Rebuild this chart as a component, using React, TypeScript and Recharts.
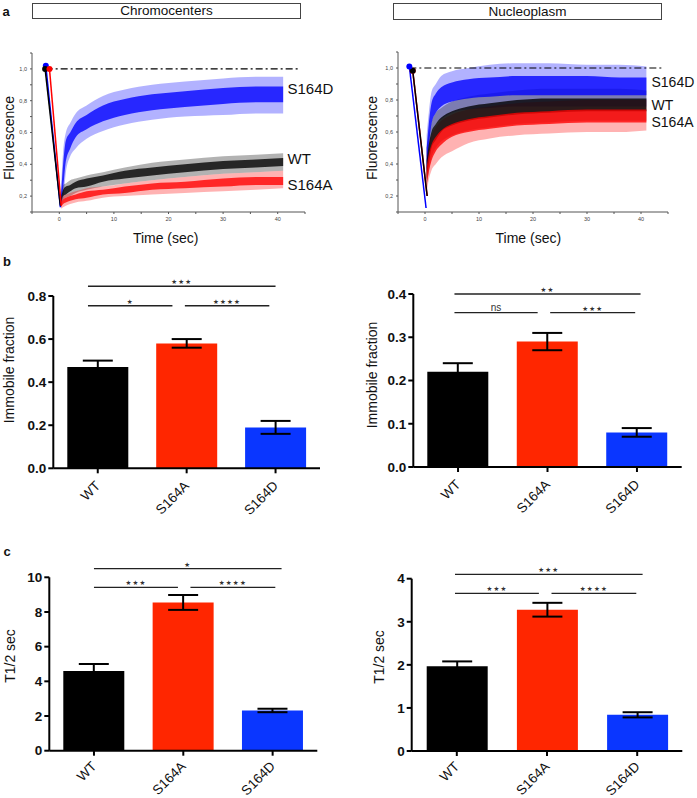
import React from 'react'
import {
  Area,
  Bar,
  BarChart,
  Cell,
  ComposedChart,
  ErrorBar,
  Line,
  ReferenceLine,
  XAxis,
  YAxis,
} from 'recharts'

const FONT = '"Liberation Sans", Arial, Helvetica, sans-serif'

// ---- a: FRAP recovery clouds, envelope at each time (sec) ----
const times = [0.3, 0.7, 1.2, 2, 3, 5, 8, 12, 17, 23, 30, 36, 41]

// Chromocenters
const chrWtLo = [0.14, 0.18, 0.19, 0.2, 0.22, 0.24, 0.26, 0.28, 0.3, 0.32, 0.34, 0.35, 0.36]
const chrWtCoreLo = [0.15, 0.2, 0.21, 0.23, 0.25, 0.26, 0.29, 0.31, 0.33, 0.35, 0.37, 0.38, 0.39]
const chrWtCoreHi = [0.19, 0.24, 0.26, 0.27, 0.29, 0.31, 0.33, 0.36, 0.38, 0.4, 0.42, 0.43, 0.44]
const chrWtHi = [0.22, 0.27, 0.28, 0.3, 0.31, 0.33, 0.35, 0.38, 0.41, 0.43, 0.45, 0.46, 0.47]

const chrALo = [0.12, 0.13, 0.14, 0.15, 0.16, 0.17, 0.19, 0.2, 0.21, 0.22, 0.23, 0.24, 0.25]
const chrACoreLo = [0.13, 0.15, 0.16, 0.17, 0.18, 0.19, 0.21, 0.22, 0.24, 0.25, 0.26, 0.27, 0.27]
const chrACoreHi = [0.16, 0.18, 0.19, 0.2, 0.21, 0.23, 0.24, 0.26, 0.28, 0.29, 0.31, 0.32, 0.32]
const chrAHi = [0.18, 0.2, 0.21, 0.22, 0.23, 0.25, 0.26, 0.28, 0.3, 0.32, 0.34, 0.35, 0.36]

const chrDLo = [0.15, 0.18, 0.35, 0.45, 0.5, 0.56, 0.61, 0.65, 0.68, 0.7, 0.71, 0.72, 0.72]
const chrDCoreLo = [0.16, 0.25, 0.42, 0.5, 0.57, 0.62, 0.67, 0.71, 0.74, 0.76, 0.78, 0.79, 0.79]
const chrDCoreHi = [0.2, 0.4, 0.55, 0.6, 0.66, 0.71, 0.77, 0.81, 0.84, 0.86, 0.88, 0.89, 0.89]
const chrDHi = [0.24, 0.48, 0.6, 0.66, 0.72, 0.77, 0.83, 0.87, 0.9, 0.92, 0.94, 0.95, 0.95]

// Nucleoplasm
const nucWtLo = [0.25, 0.35, 0.44, 0.5, 0.54, 0.58, 0.61, 0.63, 0.65, 0.66, 0.67, 0.67, 0.67]
const nucWtCoreLo = [0.3, 0.4, 0.5, 0.55, 0.6, 0.64, 0.67, 0.69, 0.71, 0.72, 0.73, 0.73, 0.73]
const nucWtCoreHi = [0.42, 0.52, 0.6, 0.65, 0.69, 0.73, 0.76, 0.78, 0.8, 0.81, 0.81, 0.81, 0.81]
const nucWtHi = [0.5, 0.58, 0.66, 0.72, 0.75, 0.79, 0.82, 0.84, 0.86, 0.87, 0.87, 0.87, 0.86]

const nucALo = [0.22, 0.3, 0.36, 0.4, 0.44, 0.48, 0.53, 0.56, 0.58, 0.59, 0.6, 0.6, 0.61]
const nucACoreLo = [0.27, 0.35, 0.42, 0.48, 0.52, 0.57, 0.6, 0.62, 0.64, 0.65, 0.66, 0.66, 0.66]
const nucACoreHi = [0.38, 0.46, 0.52, 0.57, 0.61, 0.65, 0.68, 0.7, 0.72, 0.73, 0.74, 0.74, 0.74]
const nucAHi = [0.45, 0.52, 0.58, 0.63, 0.67, 0.71, 0.74, 0.76, 0.78, 0.79, 0.8, 0.8, 0.8]

const nucDLo = [0.28, 0.42, 0.58, 0.65, 0.68, 0.72, 0.74, 0.75, 0.76, 0.76, 0.76, 0.76, 0.76]
const nucDCoreLo = [0.35, 0.5, 0.65, 0.72, 0.76, 0.79, 0.81, 0.82, 0.83, 0.83, 0.83, 0.83, 0.83]
const nucDCoreHi = [0.5, 0.65, 0.78, 0.84, 0.88, 0.91, 0.93, 0.94, 0.95, 0.95, 0.95, 0.94, 0.94]
const nucDHi = [0.58, 0.72, 0.85, 0.9, 0.95, 0.98, 1.0, 1.02, 1.03, 1.03, 1.02, 1.02, 1.01]

// pre-bleach point and the drop to the first post-bleach frame (WT, S164A, S164D)
const chrStartT = [-2.6, -1.8, -2.47]
const chrStartV = [1.0, 1.0, 1.02]
const chrEndT = [0.2, 0.35, 0.2]
const chrEndV = [0.14, 0.14, 0.13]
const nucStartT = [-2.27, -2.27, -2.9]
const nucStartV = [0.983, 0.983, 1.01]
const nucEndT = [0.4, 0.4, 0.2]
const nucEndV = [0.2, 0.2, 0.125]

const timeTicks = [-5, 0, 5, 10, 15, 20, 25, 30, 35, 40, 45]
const fluoTicks = [0.1, 0.2, 0.3, 0.4, 0.5, 0.6, 0.7, 0.8, 0.9, 1.0, 1.1]

// ---- b, c: bar panels ----
const groups = ['WT', 'S164A', 'S164D']
const groupSlots = [0.5, 1.5, 2.5]
const barColors = ['#000000', '#ff2600', '#0a36ff']
const cloudColors = ['#000000', '#ff0000', '#0000ff']

const immobileChr = [0.47, 0.58, 0.19]
const immobileChrErr = [0.03, 0.02, 0.03]
const immobileNuc = [0.22, 0.29, 0.08]
const immobileNucErr = [0.02, 0.02, 0.01]
const halfChr = [4.6, 8.55, 2.32]
const halfChrErr = [0.4, 0.43, 0.1]
const halfNuc = [1.97, 3.28, 0.84]
const halfNucErr = [0.11, 0.16, 0.06]

// significance brackets: [from, to] on the 0..3 group scale, height in data units
const bracketsImmChr = [
  { from: 0.39, to: 2.5, y: 0.845, text: '★★★' },
  { from: 0.39, to: 1.34, y: 0.755, text: '★' },
  { from: 1.48, to: 2.43, y: 0.755, text: '★★★★' },
]
const bracketsImmNuc = [
  { from: 0.46, to: 2.54, y: 0.4, text: '★★' },
  { from: 0.46, to: 1.39, y: 0.357, text: 'ns' },
  { from: 1.53, to: 2.48, y: 0.357, text: '★★★' },
]
const bracketsHalfChr = [
  { from: 0.5, to: 2.6, y: 10.5, text: '★' },
  { from: 0.5, to: 1.44, y: 9.42, text: '★★★' },
  { from: 1.58, to: 2.53, y: 9.42, text: '★★★★' },
]
const bracketsHalfNuc = [
  { from: 0.48, to: 2.56, y: 4.1, text: '★★★' },
  { from: 0.48, to: 1.41, y: 3.66, text: '★★★' },
  { from: 1.55, to: 2.49, y: 3.66, text: '★★★★' },
]

function buildRows(bands: number[][][]) {
  // bands: per series [lo, coreLo, coreHi, hi]
  return times.map((t, i) => {
    const row: Record<string, unknown> = { t }
    bands.forEach((b, s) => {
      row[`o${s}`] = [b[0][i], b[3][i]]
      row[`c${s}`] = [b[1][i], b[2][i]]
    })
    return row
  })
}

const chrRows = buildRows([
  [chrWtLo, chrWtCoreLo, chrWtCoreHi, chrWtHi],
  [chrALo, chrACoreLo, chrACoreHi, chrAHi],
  [chrDLo, chrDCoreLo, chrDCoreHi, chrDHi],
])
const nucRows = buildRows([
  [nucWtLo, nucWtCoreLo, nucWtCoreHi, nucWtHi],
  [nucALo, nucACoreLo, nucACoreHi, nucAHi],
  [nucDLo, nucDCoreLo, nucDCoreHi, nucDHi],
])

function Txt({ x, y, text, size = 14, bold = false, rotate = 0, align = 'center' }: any) {
  return (
    <div
      style={{
        position: 'absolute',
        left: x,
        top: y,
        transform: `translate(${align === 'left' ? '0' : '-50%'}, -50%) rotate(${rotate}deg)`,
        fontSize: size,
        fontWeight: bold ? 700 : 400,
        fontFamily: FONT,
        whiteSpace: 'nowrap',
        lineHeight: 1,
        color: '#111',
      }}
    >
      {text}
    </div>
  )
}

function TitleBox({ x, y, w, h, text }: any) {
  return (
    <div
      style={{
        position: 'absolute',
        left: x,
        top: y,
        width: w,
        height: h,
        border: '1px solid #444',
        boxSizing: 'border-box',
        display: 'flex',
        alignItems: 'center',
        justifyContent: 'center',
        fontFamily: FONT,
        fontSize: 13.5,
        color: '#111',
      }}
    >
      {text}
    </div>
  )
}

const startDot = (color: string) => (p: any) =>
  p.index === 0 ? (
    <circle key={`d${p.index}`} cx={p.cx} cy={p.cy} r={3} fill={color} />
  ) : (
    <g key={`d${p.index}`} />
  )

function RecoveryPanel({ left, yAxisWidth, width, marginTop, marginRight, rows, order, lineOrder, startT, startV, endT, endV, refFrom }: any) {
  return (
    <div style={{ position: 'absolute', left, top: 0 }}>
      <ComposedChart
        width={width}
        height={245}
        data={rows}
        margin={{ top: marginTop, right: marginRight, bottom: 0, left: 0 }}
      >
        <XAxis
          dataKey="t"
          type="number"
          domain={[-5, 45]}
          ticks={timeTicks}
          allowDataOverflow
          height={33}
          tickSize={2}
          tickMargin={3}
          axisLine={{ stroke: '#555' }}
          tickLine={{ stroke: '#555' }}
          tick={{ fontSize: 5.5, fill: '#444', fontFamily: FONT }}
          tickFormatter={(v: number) => (v % 10 === 0 && v >= 0 && v <= 40 ? String(v) : '')}
        />
        <YAxis
          type="number"
          domain={[0.1, 1.1]}
          ticks={fluoTicks}
          allowDataOverflow
          width={yAxisWidth}
          tickSize={2}
          tickMargin={3}
          axisLine={{ stroke: '#555' }}
          tickLine={{ stroke: '#555' }}
          tick={{ fontSize: 5.5, fill: '#444', fontFamily: FONT }}
          tickFormatter={(v: number) => {
            const k = Math.round(v * 10)
            return k % 2 === 0 && k >= 2 && k <= 10 ? (k / 10).toFixed(1).replace('.', ',') : ''
          }}
        />
        {order.map((s: number) => (
          <Area
            key={`o${s}`}
            dataKey={`o${s}`}
            type="monotone"
            stroke="none"
            fill={cloudColors[s]}
            fillOpacity={0.3}
            isAnimationActive={false}
          />
        ))}
        {order.map((s: number) => (
          <Area
            key={`c${s}`}
            dataKey={`c${s}`}
            type="monotone"
            stroke="none"
            fill={cloudColors[s]}
            fillOpacity={0.78}
            isAnimationActive={false}
          />
        ))}
        <ReferenceLine
          segment={[
            { x: refFrom, y: 1 },
            { x: 43.8, y: 1 },
          ]}
          stroke="#000"
          strokeWidth={1.2}
          strokeDasharray="7 3 2 3"
          ifOverflow="visible"
        />
        {lineOrder.map((s: number) => (
          <Line
            key={`l${s}`}
            data={[
              { t: startT[s], v: startV[s] },
              { t: endT[s], v: endV[s] },
            ]}
            dataKey="v"
            stroke={cloudColors[s]}
            strokeWidth={1.5}
            dot={startDot(cloudColors[s])}
            activeDot={false}
            isAnimationActive={false}
          />
        ))}
      </ComposedChart>
    </div>
  )
}

function SlantTick({ x, y, payload, shift = 8 }: any) {
  return (
    <g transform={`translate(${x},${y + shift})`}>
      <text
        transform="rotate(-45)"
        textAnchor="end"
        dy="0.35em"
        fontSize={13.5}
        fontFamily={FONT}
        fill="#111"
      >
        {groups[Math.round(payload.value - 0.5)]}
      </text>
    </g>
  )
}

function BarPanel({ left, top, width, height, yAxisWidth, marginTop, marginRight, xAxisHeight, values, errors, domain, ticks, digits, brackets, labelShift }: any) {
  const rows = groups.map((g, i) => ({ name: g, slot: groupSlots[i], value: values[i], err: errors[i] }))
  return (
    <div style={{ position: 'absolute', left, top }}>
      <BarChart
        width={width}
        height={height}
        data={rows}
        margin={{ top: marginTop, right: marginRight, bottom: 0, left: 0 }}
        barSize={61}
      >
        <XAxis
          dataKey="slot"
          type="number"
          domain={[0, 3]}
          ticks={groupSlots}
          allowDataOverflow
          height={xAxisHeight}
          interval={0}
          tickSize={5}
          tickMargin={2}
          axisLine={{ stroke: '#000', strokeWidth: 2 }}
          tickLine={{ stroke: '#000', strokeWidth: 2 }}
          tick={<SlantTick shift={labelShift} />}
        />
        <YAxis
          type="number"
          domain={domain}
          ticks={ticks}
          allowDataOverflow
          width={yAxisWidth}
          tickSize={5}
          tickMargin={2}
          axisLine={{ stroke: '#000', strokeWidth: 2 }}
          tickLine={{ stroke: '#000', strokeWidth: 2 }}
          tick={{ fontSize: 13.5, fontWeight: 700, fill: '#111', fontFamily: FONT }}
          tickFormatter={(v: number) => v.toFixed(digits)}
        />
        <Bar dataKey="value" isAnimationActive={false}>
          {rows.map((r, i) => (
            <Cell key={r.name} fill={barColors[i]} />
          ))}
          <ErrorBar dataKey="err" width={15} stroke="#000" strokeWidth={2} />
        </Bar>
        {brackets.map((b: any, i: number) => (
          <ReferenceLine
            key={i}
            segment={[
              { x: b.from, y: b.y },
              { x: b.to, y: b.y },
            ]}
            stroke="#222"
            strokeWidth={1.4}
            ifOverflow="visible"
            label={
              b.text === 'ns'
                ? { value: b.text, position: 'top', offset: 2, fontSize: 10, fill: '#333', fontFamily: FONT }
                : {
                    value: b.text,
                    position: 'top',
                    offset: 2,
                    fontSize: 6.5,
                    fill: '#333',
                    fontFamily: '"DejaVu Sans", sans-serif',
                    letterSpacing: 1.2,
                  }
            }
          />
        ))}
      </BarChart>
    </div>
  )
}

export default function App() {
  return (
    <div style={{ position: 'absolute', left: 0, top: 0, width: 697, height: 798, background: '#fff', overflow: 'hidden' }}>
      <Txt x={6} y={10.5} text="a" size={13} bold />
      <TitleBox x={32} y={3} w={269} h={15.5} text="Chromocenters" />
      <TitleBox x={393} y={3} w={269} h={17} text="Nucleoplasm" />

      <RecoveryPanel
        left={0}
        width={330}
        yAxisWidth={32}
        marginTop={53}
        marginRight={25}
        rows={chrRows}
        order={[2, 0, 1]}
        lineOrder={[2, 0, 1]}
        startT={chrStartT}
        startV={chrStartV}
        endT={chrEndT}
        endV={chrEndV}
        refFrom={-2.5}
      />
      <RecoveryPanel
        left={350}
        width={347}
        yAxisWidth={48}
        marginTop={52}
        marginRight={29}
        rows={nucRows}
        order={[2, 0, 1]}
        lineOrder={[1, 0, 2]}
        startT={nucStartT}
        startV={nucStartV}
        endT={nucEndT}
        endV={nucEndV}
        refFrom={-2.9}
      />
      <Txt x={8.5} y={137.5} text="Fluorescence" rotate={-90} />
      <Txt x={372} y={137.5} text="Fluorescence" rotate={-90} />
      <Txt x={165.7} y={238} text="Time (sec)" />
      <Txt x={528.3} y={238} text="Time (sec)" />
      <Txt x={287.5} y={87.5} text="S164D" size={15} align="left" />
      <Txt x={287.5} y={157.7} text="WT" size={15} align="left" />
      <Txt x={287.5} y={184} text="S164A" size={15} align="left" />
      <Txt x={651.5} y={81.7} text="S164D" size={14} align="left" />
      <Txt x={651.5} y={105.3} text="WT" size={14} align="left" />
      <Txt x={651.5} y={122.2} text="S164A" size={14} align="left" />

      <Txt x={7} y={261} text="b" size={13} bold />
      <BarPanel
        left={0}
        top={250}
        width={330}
        height={280}
        yAxisWidth={53.3}
        marginTop={46}
        marginRight={10}
        xAxisHeight={61.7}
        values={immobileChr}
        errors={immobileChrErr}
        domain={[0, 0.8]}
        ticks={[0, 0.2, 0.4, 0.6, 0.8]}
        digits={1}
        brackets={bracketsImmChr}
        labelShift={8}
      />
      <BarPanel
        left={350}
        top={250}
        width={347}
        height={280}
        yAxisWidth={63.3}
        marginTop={44}
        marginRight={15.3}
        xAxisHeight={63}
        values={immobileNuc}
        errors={immobileNucErr}
        domain={[0, 0.4]}
        ticks={[0, 0.1, 0.2, 0.3, 0.4]}
        digits={1}
        brackets={bracketsImmNuc}
        labelShift={8}
      />
      <Txt x={8.7} y={370} text="Immobile fraction" rotate={-90} />
      <Txt x={372} y={375} text="Immobile fraction" rotate={-90} />

      <Txt x={7} y={550.5} text="c" size={13} bold />
      <BarPanel
        left={0}
        top={540}
        width={330}
        height={258}
        yAxisWidth={49.3}
        marginTop={37.3}
        marginRight={12.7}
        xAxisHeight={47.3}
        values={halfChr}
        errors={halfChrErr}
        domain={[0, 10]}
        ticks={[0, 2, 4, 6, 8, 10]}
        digits={0}
        brackets={bracketsHalfChr}
        labelShift={6}
      />
      <BarPanel
        left={350}
        top={540}
        width={347}
        height={258}
        yAxisWidth={61.7}
        marginTop={38.7}
        marginRight={14.7}
        xAxisHeight={47}
        values={halfNuc}
        errors={halfNucErr}
        domain={[0, 4]}
        ticks={[0, 1, 2, 3, 4]}
        digits={0}
        brackets={bracketsHalfNuc}
        labelShift={6}
      />
      <Txt x={10} y={656} text="T1/2 sec" rotate={-90} />
      <Txt x={379} y={657} text="T1/2 sec" rotate={-90} />
    </div>
  )
}
